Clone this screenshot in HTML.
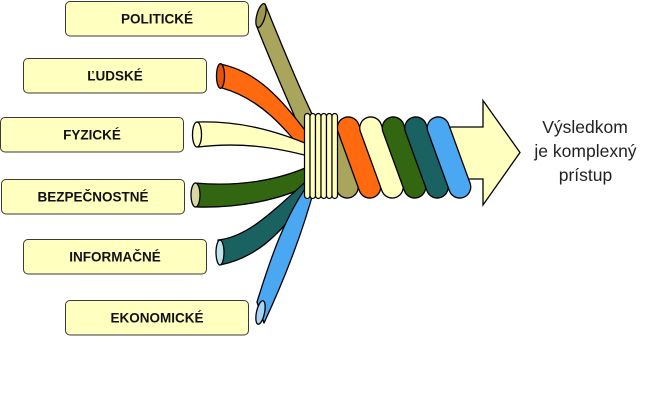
<!DOCTYPE html>
<html>
<head>
<meta charset="utf-8">
<style>
  html, body { margin: 0; padding: 0; background: #ffffff; }
  body { width: 650px; height: 403px; overflow: hidden; }
  svg { display: block; }
  .lbl { font-family: "Liberation Sans", Arial, sans-serif; font-weight: bold; font-size: 13.5px; fill: #111111; }
  .res { font-family: "Liberation Sans", Arial, sans-serif; font-size: 17.5px; fill: #222222; }
</style>
</head>
<body>
<svg width="650" height="403" viewBox="0 0 650 403" xmlns="http://www.w3.org/2000/svg">
  <rect x="0" y="0" width="650" height="403" fill="#ffffff"/>

  <!-- Label boxes -->
  <g fill="#FFFFC0" stroke="#3a3a3a" stroke-width="1">
    <rect x="65.5" y="1.5" width="183" height="34.5" rx="4.5"/>
    <rect x="23.5" y="58.5" width="183" height="34.5" rx="4.5"/>
    <rect x="0.5" y="117.5" width="183" height="34.5" rx="4.5"/>
    <rect x="1.5" y="179.5" width="183" height="34.5" rx="4.5"/>
    <rect x="23.5" y="239.5" width="183" height="34.5" rx="4.5"/>
    <rect x="65.5" y="300.5" width="183" height="34.5" rx="4.5"/>
  </g>
  <g class="lbl" text-anchor="middle">
    <text x="157" y="23.5">POLITICKÉ</text>
    <text x="115" y="80.5">ĽUDSKÉ</text>
    <text x="92" y="139.5">FYZICKÉ</text>
    <text x="93" y="201.5">BEZPEČNOSTNÉ</text>
    <text x="115" y="261.5">INFORMAČNÉ</text>
    <text x="157" y="322.5">EKONOMICKÉ</text>
  </g>

  <!-- Fanning tubes -->
  <g stroke="#000" stroke-width="1.3" stroke-linejoin="round">
    <!-- olive -->
    <path d="M265,4 C279,38 298,86 314,118 L314,142 L303,136 C292,110 274,70 257,27 Z" fill="#A9A55C"/>
    <ellipse cx="261" cy="15.5" rx="4.2" ry="12.2" transform="rotate(15 261 15.5)" fill="#9C974E"/>
    <!-- orange -->
    <path d="M220,64 C250,70 275,88 312,140 L312,162 C290,135 265,100 222,88 Z" fill="#FF6A10"/>
    <ellipse cx="220.5" cy="76" rx="4" ry="12.3" fill="#E25508"/>
    <!-- cream -->
    <path d="M197,122 C235,121 270,128 312,146 L312,157 C275,147 240,142 198,147 Z" fill="#FFFFC0"/>
    <ellipse cx="197" cy="134.5" rx="4.5" ry="12.5" fill="#FFFFC8"/>
    <!-- dark green -->
    <path d="M195,183 C240,187 280,180 312,165 L312,184 C280,200 240,208 197,207 Z" fill="#336611"/>
    <ellipse cx="195.5" cy="195" rx="4.5" ry="12" fill="#D8D8A0"/>
    <!-- teal -->
    <path d="M218,240 C248,237 272,212 312,176 L312,195 C290,215 270,255 220,265 Z" fill="#1A6262"/>
    <ellipse cx="220" cy="252.5" rx="4" ry="12.5" fill="#BFE3EC"/>
    <!-- light blue -->
    <path d="M257,302 C270,260 285,215 310,182 L315,186 C306,220 291,265 264,323 Z" fill="#4AA8F2"/>
    <ellipse cx="260.5" cy="312.5" rx="4" ry="12" transform="rotate(12 260.5 312.5)" fill="#A8D4F4"/>
  </g>

  <!-- Arrow -->
  <polygon points="440,127 483,127 483,100.5 520,152.5 483,205 483,179 440,179"
           fill="#FFFFC0" stroke="#000" stroke-width="1.3" stroke-linejoin="miter"/>

  <!-- Twisted strands -->
  <g stroke="#000" stroke-width="1.3">
    <rect x="-11" y="-42.4" width="22" height="84.8" rx="11" ry="11" transform="translate(336.5 157.5) rotate(-20)" fill="#A9A55C"/>
    <rect x="-11" y="-42.4" width="22" height="84.8" rx="11" ry="11" transform="translate(359 157.5) rotate(-20)" fill="#FF6A10"/>
    <rect x="-11" y="-42.4" width="22" height="84.8" rx="11" ry="11" transform="translate(381.5 157.5) rotate(-20)" fill="#FFFFC0"/>
    <rect x="-11" y="-42.4" width="22" height="84.8" rx="11" ry="11" transform="translate(404 157.5) rotate(-20)" fill="#336611"/>
    <rect x="-11" y="-42.4" width="22" height="84.8" rx="11" ry="11" transform="translate(426.5 157.5) rotate(-20)" fill="#1A6262"/>
    <rect x="-11" y="-42.4" width="22" height="84.8" rx="11" ry="11" transform="translate(449 157.5) rotate(-20)" fill="#4AA8F2"/>
  </g>

  <!-- Binding -->
  <g fill="#FFFFC0" stroke="#000" stroke-width="1.2">
    <rect x="304.5" y="113.5" width="5.5" height="85" rx="2.75" ry="3"/>
    <rect x="310" y="113.5" width="5.5" height="85" rx="2.75" ry="3"/>
    <rect x="315.5" y="113.5" width="5.5" height="85" rx="2.75" ry="3"/>
    <rect x="321" y="113.5" width="5.5" height="85" rx="2.75" ry="3"/>
    <rect x="326.5" y="113.5" width="5.5" height="85" rx="2.75" ry="3"/>
    <rect x="332" y="113.5" width="5.5" height="85" rx="2.75" ry="3"/>
  </g>

  <!-- Result text -->
  <g class="res" text-anchor="middle">
    <text x="585" y="133">Výsledkom</text>
    <text x="585.5" y="157">je komplexný</text>
    <text x="585.5" y="181">prístup</text>
  </g>
</svg>
</body>
</html>
